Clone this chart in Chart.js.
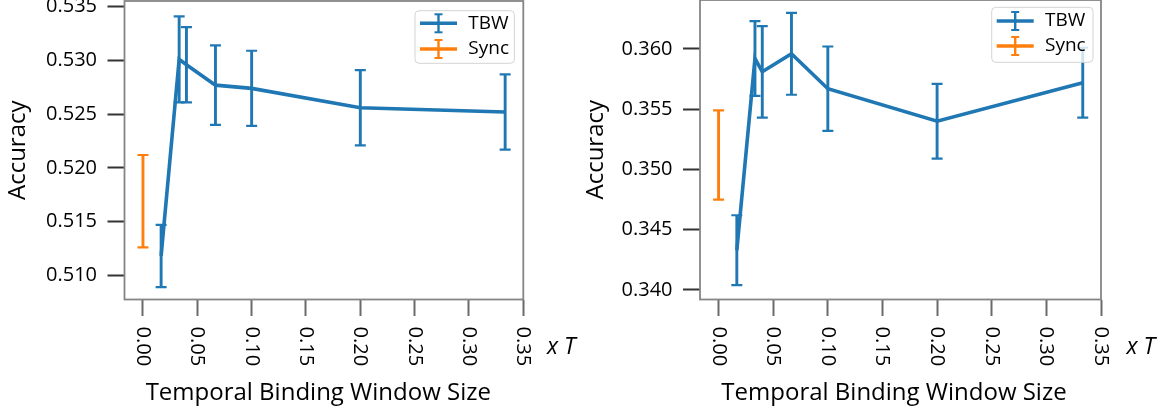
<!DOCTYPE html>
<html>
<head>
<meta charset="utf-8">
<script src="https://cdn.jsdelivr.net/npm/chart.js@4.4.0/dist/chart.umd.min.js"></script>
<style>
  body { margin: 0; background: #fff; }
  #wrap { position: relative; width: 1163px; height: 410px; }
  .panel { position: absolute; top: 0; height: 410px; }
</style>
</head>
<body>
<div id="wrap">
  <div class="panel" style="left:0;width:580px"><canvas id="chartLeft" width="580" height="410"></canvas></div>
  <div class="panel" style="left:580px;width:583px"><canvas id="chartRight" width="583" height="410"></canvas></div>
</div>
<script>
// window sizes (in units of T)
const windowSizes = [0.0167, 0.0333, 0.04, 0.0667, 0.1, 0.2, 0.3333]
const syncX = [0]

// left panel
const tbwLeft = [0.5118, 0.5301, 0.5296, 0.5277, 0.5274, 0.5256, 0.5252]
const tbwLeftErr = [0.0029, 0.0040, 0.0035, 0.0037, 0.0035, 0.0035, 0.0035]
const syncLeft = [0.5169]
const syncLeftErr = [0.0043]

// right panel
const tbwRight = [0.3433, 0.3592, 0.3581, 0.3596, 0.3567, 0.3540, 0.3572]
const tbwRightErr = [0.0029, 0.0031, 0.0038, 0.0034, 0.0035, 0.0031, 0.0029]
const syncRight = [0.3512]
const syncRightErr = [0.0037]

// tick labels
const xTicks = [0, 0.05, 0.10, 0.15, 0.20, 0.25, 0.30, 0.35]
const yTicksLeft = [0.510, 0.515, 0.520, 0.525, 0.530, 0.535]
const yTicksRight = [0.340, 0.345, 0.350, 0.355, 0.360]
const seriesNames = ["TBW", "Sync"]
const seriesColors = ["#1f77b4", "#ff7f0e"]

Chart.defaults.font.family = "'Open Sans', sans-serif"
Chart.defaults.color = "#000"

function seg(ctx, x1, y1, x2, y2) {
  ctx.beginPath()
  ctx.moveTo(x1, y1)
  ctx.lineTo(x2, y2)
  ctx.stroke()
}

// vertical error bars with caps, from each dataset's err array
const errorBars = {
  id: 'errorBars',
  beforeDatasetsDraw(chart) {
    const ctx = chart.ctx
    const xs = chart.scales.x, ys = chart.scales.y, a = chart.chartArea
    ctx.save()
    ctx.beginPath()
    ctx.rect(a.left, a.top, a.right - a.left, a.bottom - a.top)
    ctx.clip()
    chart.data.datasets.forEach(ds => {
      ctx.strokeStyle = ds.borderColor
      ds.data.forEach((p, i) => {
        const px = xs.getPixelForValue(p.x)
        const top = ys.getPixelForValue(p.y + ds.err[i])
        const bot = ys.getPixelForValue(p.y - ds.err[i])
        ctx.lineWidth = 2.9
        seg(ctx, px, top, px, bot)
        ctx.lineWidth = 2.2
        seg(ctx, px - 5.5, top, px + 5.5, top)
        seg(ctx, px - 5.5, bot, px + 5.5, bot)
      })
    })
    ctx.restore()
  }
}

// frame, rotated x tick labels, x title, legend
const decor = {
  id: 'decor',
  afterDraw(chart, args, o) {
    const ctx = chart.ctx, a = chart.chartArea, xs = chart.scales.x
    ctx.save()
    ctx.strokeStyle = '#858585'
    ctx.lineWidth = 1.8
    ctx.strokeRect(a.left, a.top, a.right - a.left, a.bottom - a.top)

    // x tick labels read top to bottom
    ctx.fillStyle = '#000'
    ctx.font = "20px 'Open Sans'"
    xs.ticks.forEach(t => {
      const px = xs.getPixelForValue(t.value)
      ctx.save()
      ctx.translate(px, o.tickTop)
      ctx.rotate(Math.PI / 2)
      ctx.textAlign = 'left'
      ctx.textBaseline = 'alphabetic'
      ctx.fillText(t.value.toFixed(2), 0, 6)
      ctx.restore()
    })

    ctx.font = "24px 'Open Sans'"
    ctx.textAlign = 'center'
    ctx.fillText('Temporal Binding Window Size', o.titleX, o.titleY)
    ctx.font = "italic 23px 'Open Sans'"
    ctx.textAlign = 'left'
    ctx.fillText('x T', o.unitX, o.unitY)

    // legend
    const L = o.legend
    ctx.fillStyle = 'rgba(255,255,255,0.8)'
    ctx.strokeStyle = '#d4d4d4'
    ctx.lineWidth = 1
    ctx.beginPath()
    ctx.roundRect(L.x, L.y, L.w, L.h, 4)
    ctx.fill()
    ctx.stroke()
    seriesNames.forEach((name, i) => {
      const cy = L.rows[i]
      const cx = L.sx + 18.5
      ctx.strokeStyle = seriesColors[i]
      ctx.lineWidth = 3.4
      seg(ctx, L.sx, cy, L.sx + 37, cy)
      ctx.lineWidth = 2.4
      seg(ctx, cx, cy - 9, cx, cy + 9)
      ctx.lineWidth = 2
      seg(ctx, cx - 4, cy - 9, cx + 4, cy - 9)
      seg(ctx, cx - 4, cy + 9, cx + 4, cy + 9)
      ctx.fillStyle = '#000'
      ctx.font = "19px 'Open Sans'"
      ctx.textBaseline = 'middle'
      ctx.fillText(name, L.tx, cy)
    })
    ctx.restore()
  }
}

function makeChart(id, tbw, tbwErr, sync, syncErr, yTicks, s) {
  const ctx = document.getElementById(id).getContext('2d')
  return new Chart(ctx, {
    type: 'line',
    data: {
      datasets: [{
        label: seriesNames[0],
        data: windowSizes.map((x, i) => ({ x: x, y: tbw[i] })),
        err: tbwErr,
        borderColor: seriesColors[0],
        borderWidth: 3.6,
        pointRadius: 0,
        tension: 0,
        fill: false
      }, {
        label: seriesNames[1],
        data: syncX.map((x, i) => ({ x: x, y: sync[i] })),
        err: syncErr,
        borderColor: seriesColors[1],
        borderWidth: 3,
        pointRadius: 0,
        showLine: false
      }]
    },
    options: {
      responsive: false,
      animation: false,
      layout: { padding: s.padding },
      scales: {
        x: {
          type: 'linear',
          min: -0.017,
          max: 0.35,
          afterBuildTicks: sc => { sc.ticks = xTicks.map(v => ({ value: v })) },
          afterFit: sc => { sc.height = 110.5; sc.paddingLeft = 0; sc.paddingRight = 0 },
          ticks: { display: false },
          grid: { drawOnChartArea: false, tickLength: 16.5, tickWidth: 2, tickColor: '#6a6a6a' },
          border: { display: false }
        },
        y: {
          type: 'linear',
          min: s.ymin,
          max: s.ymax,
          afterBuildTicks: sc => { sc.ticks = yTicks.map(v => ({ value: v })) },
          afterFit: sc => { sc.width = s.yWidth; sc.paddingTop = 0; sc.paddingBottom = 0 },
          ticks: { font: { size: 20 }, color: '#000', padding: 10.5, callback: v => v.toFixed(3) },
          grid: { drawOnChartArea: false, tickLength: 17, tickWidth: 2, tickColor: '#333' },
          border: { display: false },
          title: { display: true, text: 'Accuracy', font: { size: 24 }, color: '#000', padding: s.titlePad }
        }
      },
      plugins: {
        legend: { display: false },
        tooltip: { enabled: false },
        decor: s.decor
      }
    },
    plugins: [errorBars, decor]
  })
}

makeChart('chartLeft', tbwLeft, tbwLeftErr, syncLeft, syncLeftErr, yTicksLeft, {
  padding: { left: 0, right: 56.7, top: 1, bottom: 0 },
  ymin: 0.50775, ymax: 0.53553, yWidth: 124.5, titlePad: { top: 4, bottom: 4 },
  decor: {
    tickTop: 326.5, titleX: 318.3, titleY: 399.7, unitX: 547, unitY: 353.5,
    legend: { x: 415, y: 10.7, w: 99.4, h: 52.6, rows: [23.3, 49], sx: 420, tx: 468.3 }
  }
})

makeChart('chartRight', tbwRight, tbwRightErr, syncRight, syncRightErr, yTicksRight, {
  padding: { left: 0, right: 62, top: 0, bottom: 0 },
  ymin: 0.33921, ymax: 0.36406, yWidth: 120, titlePad: { top: 2, bottom: 4 },
  decor: {
    tickTop: 326.5, titleX: 314, titleY: 399.7, unitX: 546.5, unitY: 353.5,
    legend: { x: 411.7, y: 7.3, w: 101.3, h: 55, rows: [21, 46], sx: 416.7, tx: 465 }
  }
})
</script>
</body>
</html>
